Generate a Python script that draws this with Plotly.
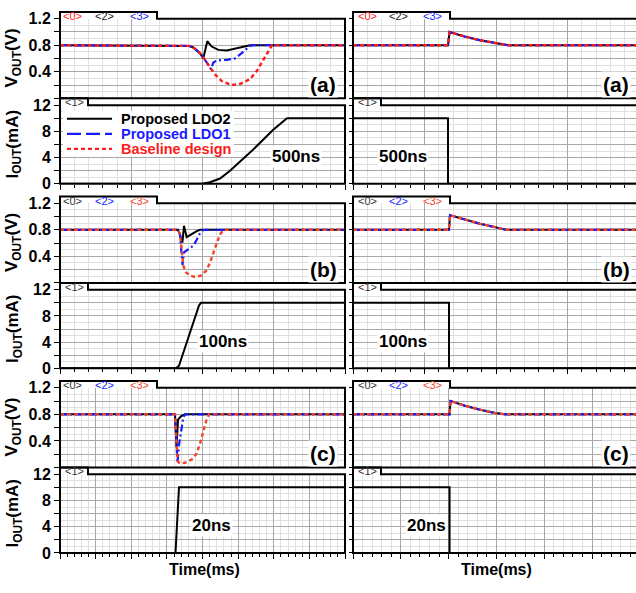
import plotly.graph_objects as go

W, H = 636, 593

# ---------------- data (time in grid divisions, V in volts, I in mA) ----------------
# Left column: load current step up
# (a) 500 ns edge
la_t_red = [0, 1.754, 1.81, 1.871, 1.965, 2.035, 2.105, 2.175, 2.270, 2.410, 2.526, 2.667, 2.761, 2.853, 2.924, 2.975, 4.0]
la_v_red = [0.8, 0.8, 0.79, 0.766, 0.68, 0.58, 0.46, 0.36, 0.26, 0.20, 0.215, 0.29, 0.41, 0.58, 0.70, 0.80, 0.8]
la_t_blue = [0, 1.754, 1.81, 1.871, 1.965, 2.035, 2.105, 2.119, 2.152, 2.199, 2.340, 2.456, 2.550, 2.620, 2.667, 2.709, 4.0]
la_v_blue = [0.8, 0.8, 0.79, 0.766, 0.68, 0.58, 0.46, 0.44, 0.54, 0.57, 0.58, 0.60, 0.68, 0.75, 0.79, 0.80, 0.8]
la_t_black = [0, 1.754, 1.81, 1.871, 1.965, 2.011, 2.067, 2.129, 2.222, 2.340, 2.480, 2.620, 2.667, 4.0]
la_v_black = [0.8, 0.8, 0.79, 0.766, 0.68, 0.60, 0.86, 0.78, 0.73, 0.72, 0.75, 0.79, 0.80, 0.8]
la_t_iout = [0, 1.993, 2.105, 2.246, 2.386, 2.709, 2.989, 3.186, 4.0]
la_i_out = [0, 0, 0.25, 0.8, 2.0, 5.2, 8.2, 10, 10]

# (b) 100 ns edge
lb_t_red = [0, 1.656, 1.684, 1.712, 1.733, 1.768, 1.825, 1.895, 1.979, 2.049, 2.105, 2.161, 2.204, 2.246, 2.288, 2.316, 4.0]
lb_v_red = [0.8, 0.8, 0.73, 0.48, 0.25, 0.16, 0.11, 0.09, 0.11, 0.18, 0.30, 0.48, 0.62, 0.73, 0.79, 0.80, 0.8]
lb_t_blue = [0, 1.656, 1.684, 1.705, 1.719, 1.740, 1.801, 1.871, 1.919, 1.965, 1.997, 2.035, 4.0]
lb_v_blue = [0.8, 0.8, 0.73, 0.50, 0.27, 0.46, 0.51, 0.56, 0.65, 0.75, 0.79, 0.80, 0.8]
lb_t_black = [0, 1.656, 1.684, 1.705, 1.719, 1.740, 1.778, 1.848, 1.919, 1.965, 4.0]
lb_v_black = [0.8, 0.8, 0.73, 0.62, 0.62, 0.86, 0.69, 0.74, 0.78, 0.80, 0.8]
lb_t_iout = [0, 1.628, 1.670, 1.712, 1.951, 1.979, 4.0]
lb_i_out = [0, 0, 0.4, 1.8, 9.6, 10, 10]

# (c) 20 ns edge
lc_t_red = [0, 3.228, 3.276, 3.304, 3.368, 3.509, 3.697, 3.837, 3.930, 4.022, 4.118, 4.182, 8.0]
lc_v_red = [0.8, 0.8, 0.34, 0.09, 0.06, 0.07, 0.12, 0.21, 0.36, 0.56, 0.73, 0.80, 0.8]
lc_t_blue = [0, 3.228, 3.298, 3.340, 3.416, 3.461, 3.509, 8.0]
lc_v_blue = [0.8, 0.8, 0.07, 0.34, 0.60, 0.75, 0.80, 0.8]
lc_t_black = [0, 3.228, 3.270, 3.312, 3.396, 3.509, 8.0]
lc_v_black = [0.8, 0.8, 0.30, 0.72, 0.77, 0.80, 0.8]
lc_t_iout = [0, 3.242, 3.340, 8.0]
lc_i_out = [0, 0, 10, 10]

# Right column: load current step down (all three designs overlap)
ra_t = [0, 1.329, 1.350, 1.566, 1.776, 1.986, 2.168, 3.958]
ra_v = [0.8, 0.8, 1.0, 0.93, 0.875, 0.83, 0.80, 0.8]
ra_t_iout = [0, 1.329, 1.329, 3.958]
ra_i_out = [10, 10, 0, 0]

rb_t = [0, 1.343, 1.357, 1.566, 1.776, 1.986, 2.140, 3.958]
rb_v = [0.8, 0.8, 1.02, 0.95, 0.89, 0.84, 0.80, 0.8]
rb_t_iout = [0, 1.343, 1.343, 3.958]
rb_i_out = [10, 10, 0, 0]

rc_t = [0, 2.02, 2.04, 2.343, 2.657, 2.971, 3.180, 5.92]
rc_v = [0.8, 0.8, 1.0, 0.93, 0.87, 0.82, 0.80, 0.8]
rc_t_iout = [0, 2.02, 2.02, 5.92]
rc_i_out = [10, 10, 0, 0]

series_names = ["Proposed LDO2", "Proposed LDO1", "Baseline design"]
edge_labels = ["500ns", "100ns", "20ns"]
panel_tags = ["(a)", "(b)", "(c)"]
v_ticks = [0, 0.2, 0.4, 0.6, 0.8, 1.0, 1.2]
v_ticktext = ["", "", "0.4", "", "0.8", "", "1.2"]
i_ticks = [0, 2, 4, 6, 8, 10, 12]
i_ticktext = ["0", "", "4", "", "8", "", "12"]

# ---------------- styling ----------------
FONT = "Liberation Sans, Arial, sans-serif"
BLACK = "#000000"
BLUE = "#1a1aff"
RED_A = "#ff1a1a"
RED_BC = "#f0452a"
MAJ = "#a8a8a8"
MIN = "#e0e0e0"
COLS = [(60, 345), (353, 636)]
ROWS = [(11, 93), (100, 181), (201, 283), (290, 371), (391, 473), (480, 561)]


def fx(px):
    return px / W


def fy(py):
    return 1 - py / H


def lstyle(kind, red):
    if kind == 0:
        return dict(color=BLACK, width=2)
    if kind == 1:
        return dict(color=BLUE, width=2.2, dash="7px,3px,2px,3px")
    return dict(color=red, width=2.4, dash="4px,3px")


# panel definitions: (row, col, is_current, xmax, traces)
panels = [
    (0, 0, False, 4.0, [(la_t_black, la_v_black), (la_t_blue, la_v_blue), (la_t_red, la_v_red)]),
    (0, 1, False, 3.958, [(ra_t, ra_v), (ra_t, ra_v), (ra_t, ra_v)]),
    (1, 0, True, 4.0, [(la_t_iout, la_i_out)]),
    (1, 1, True, 3.958, [(ra_t_iout, ra_i_out)]),
    (2, 0, False, 4.0, [(lb_t_black, lb_v_black), (lb_t_blue, lb_v_blue), (lb_t_red, lb_v_red)]),
    (2, 1, False, 3.958, [(rb_t, rb_v), (rb_t, rb_v), (rb_t, rb_v)]),
    (3, 0, True, 4.0, [(lb_t_iout, lb_i_out)]),
    (3, 1, True, 3.958, [(rb_t_iout, rb_i_out)]),
    (4, 0, False, 8.0, [(lc_t_black, lc_v_black), (lc_t_blue, lc_v_blue), (lc_t_red, lc_v_red)]),
    (4, 1, False, 5.92, [(rc_t, rc_v), (rc_t, rc_v), (rc_t, rc_v)]),
    (5, 0, True, 8.0, [(lc_t_iout, lc_i_out)]),
    (5, 1, True, 5.92, [(rc_t_iout, rc_i_out)]),
]

fig = go.Figure()
layout = {}
shapes = []
annotations = []


def ann(text, px, py, size, color=BLACK, bold=True, bg=None, xanchor="center", angle=0):
    d = dict(text=text, x=fx(px), y=fy(py), xref="paper", yref="paper",
             xanchor=xanchor, yanchor="middle", showarrow=False, textangle=angle,
             font=dict(family=FONT, size=size, color=color, weight="bold" if bold else "normal"))
    if bg:
        d.update(bgcolor=bg, borderpad=1)
    annotations.append(d)


for k, (row, col, is_i, xmax, trs) in enumerate(panels, start=1):
    xs = "" if k == 1 else str(k)
    l, r = COLS[col]
    t, b = ROWS[row]
    red = RED_A if row == 0 else RED_BC
    for j, (tt, yy) in enumerate(trs):
        line = dict(color=BLACK, width=2) if is_i else lstyle(j, red)
        fig.add_trace(go.Scatter(x=tt, y=yy, mode="lines", line=line, xaxis="x" + xs,
                                 yaxis="y" + xs, showlegend=False, hoverinfo="skip",
                                 name=series_names[j] if not is_i else "I_OUT"))
    tk = "outside" if is_i else ""
    layout["xaxis" + xs] = dict(
        domain=[fx(l), fx(r)], range=[0, xmax], anchor="y" + xs, showgrid=True,
        gridcolor=MAJ, gridwidth=1, tick0=0, dtick=1, showticklabels=False,
        zeroline=False, showline=False, ticks=tk, ticklen=5, tickcolor=BLACK, tickwidth=1,
        minor=dict(tick0=0, dtick=0.2, showgrid=True, gridcolor=MIN, ticks=tk, ticklen=3,
                   tickcolor=BLACK),
        fixedrange=True)
    layout["yaxis" + xs] = dict(
        domain=[fy(b), fy(t)], range=[0, 12] if is_i else [0, 1.2], anchor="x" + xs,
        tickmode="array", tickvals=i_ticks if is_i else v_ticks,
        ticktext=i_ticktext if is_i else v_ticktext, showticklabels=(col == 0),
        ticks="outside", ticklen=5 if col == 0 else 3, tickcolor=BLACK,
        tickfont=dict(family=FONT, size=16, color=BLACK, weight="bold"),
        showgrid=True, gridcolor=MAJ, gridwidth=1, zeroline=False, showline=False,
        minor=dict(tick0=0, dtick=1 if is_i else 0.1, showgrid=True, gridcolor=MIN),
        fixedrange=True)

    # frame with tab
    tab_w = 28 if is_i else 97
    tr_ = l + tab_w
    tt_ = t - 7
    if col == 0:
        path = (f"M {fx(l)},{fy(b)} L {fx(l)},{fy(tt_)} L {fx(tr_)},{fy(tt_)} L {fx(tr_)},{fy(t)} "
                f"L {fx(r)},{fy(t)} L {fx(r)},{fy(b)} Z")
    else:
        path = (f"M {fx(r)},{fy(b)} L {fx(l)},{fy(b)} L {fx(l)},{fy(tt_)} L {fx(tr_)},{fy(tt_)} "
                f"L {fx(tr_)},{fy(t)} L {fx(r)},{fy(t)}")
    shapes.append(dict(type="path", path=path, xref="paper", yref="paper", layer="above",
                       line=dict(color=BLACK, width=2), fillcolor="rgba(0,0,0,0)"))

    # tab labels
    if is_i:
        ann("&lt;1&gt;", l + 14, t - 3, 11, "#333333", bold=False)
    else:
        if row == 0:
            cols3 = [RED_A, "#222222", BLUE]
        else:
            cols3 = ["#333333", BLUE, RED_BC]
        offs = [12, 44, 79] if col == 0 else [14, 45, 79]
        for lab, cc, o in zip(["&lt;0&gt;", "&lt;2&gt;", "&lt;3&gt;"], cols3, offs):
            ann(lab, l + o, t - 2.5, 11, cc, bold=False)

    if not is_i:
        ann(panel_tags[row // 2], 323 if col == 0 else 616, b - 14, 21, bg="white")
    else:
        if col == 0:
            ex = [296, 223, 211][row // 2]
        else:
            ex = [403, 403, 426][row // 2]
        ann(edge_labels[row // 2], ex, t + 53, 17, bg="white")

# y axis titles
for row in range(6):
    t, b = ROWS[row]
    if row % 2 == 0:
        ann("V<sub>OUT</sub>(V)", 13, (t + b) / 2, 17, angle=-90)
    else:
        ann("I<sub>OUT</sub>(mA)", 14, (t + b) / 2, 17, angle=-90)

# x titles
ann("Time(ms)", 204, 578, 16)
ann("Time(ms)", 496, 578, 16)

# legend (in I_OUT panel (a))
shapes.append(dict(type="rect", xref="paper", yref="paper", x0=fx(63), x1=fx(234),
                   y0=fy(153), y1=fy(106), fillcolor="white", line=dict(width=0), layer="above"))
leg_colors = [BLACK, BLUE, RED_A]
for j, name in enumerate(series_names):
    yy = [114, 129.5, 145][j]
    st = lstyle(j, RED_A)
    if j == 1:
        st = dict(color=BLUE, width=2.2, dash="14px,5px")
    shapes.append(dict(type="line", xref="paper", yref="paper", x0=fx(67), x1=fx(112),
                       y0=fy(yy), y1=fy(yy), line=st, layer="above"))
    ann(name, 119, yy, 14.5, leg_colors[j], xanchor="left")

layout.update(
    width=W, height=H, margin=dict(l=0, r=0, t=0, b=0, pad=0),
    paper_bgcolor="white", plot_bgcolor="white", showlegend=False,
    shapes=shapes, annotations=annotations,
    font=dict(family=FONT, color=BLACK),
)
fig.update_layout(**layout)
fig.write_html("out.html", config={"displayModeBar": False})
